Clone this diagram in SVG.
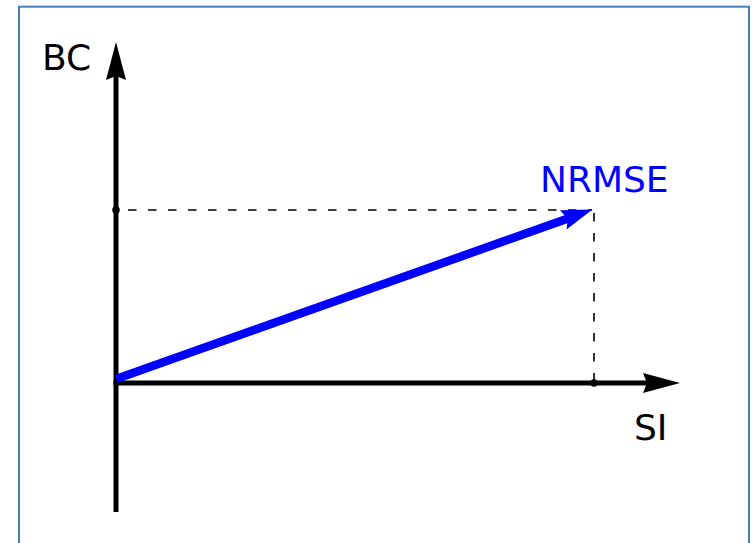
<svg xmlns="http://www.w3.org/2000/svg" width="753" height="543" viewBox="0 0 753 543">
<style>
.axis{stroke:#000;stroke-width:5;fill:none}
.dash{stroke:#000;stroke-width:1.6;fill:none;stroke-dasharray:8.5 11.5}
.lbl{font-family:"DejaVu Sans",sans-serif;font-size:36px}
</style>
<rect x="0" y="0" width="753" height="543" fill="#fff"/>
<rect x="19" y="6.7" width="730" height="600" fill="none" stroke="#4a7ebb" stroke-width="2"/>
<g id="connectors">
<path class="dash" d="M128 210 H592"/>
<path class="dash" d="M594 213 V380"/>
<circle cx="116" cy="210" r="3.8" fill="#000"/>
<circle cx="594" cy="383" r="3.8" fill="#000"/>
<path class="axis" d="M116 512 V76"/>
<path d="M116 42 L126 80 L116 76 L106 80 Z" fill="#000"/>
<path class="axis" d="M113.5 383 H647"/>
<path d="M680 383 L643 393 L647 383 L643 373 Z" fill="#000"/>
<path d="M116 379 L568 218.5" stroke="#0000ff" stroke-width="8.5" fill="none"/>
<path d="M592.5 209.5 L566.5 229.6 L567.8 219 L560 210.2 Z" fill="#0000ff"/>
</g>
<g id="label-bc"><text class="lbl" x="42" y="70" fill="#000">BC</text></g>
<g id="label-si"><text class="lbl" x="634" y="440" fill="#000">SI</text></g>
<g id="label-nrmse"><text class="lbl" x="540" y="192" fill="#0000ff">NRMSE</text></g>
</svg>
